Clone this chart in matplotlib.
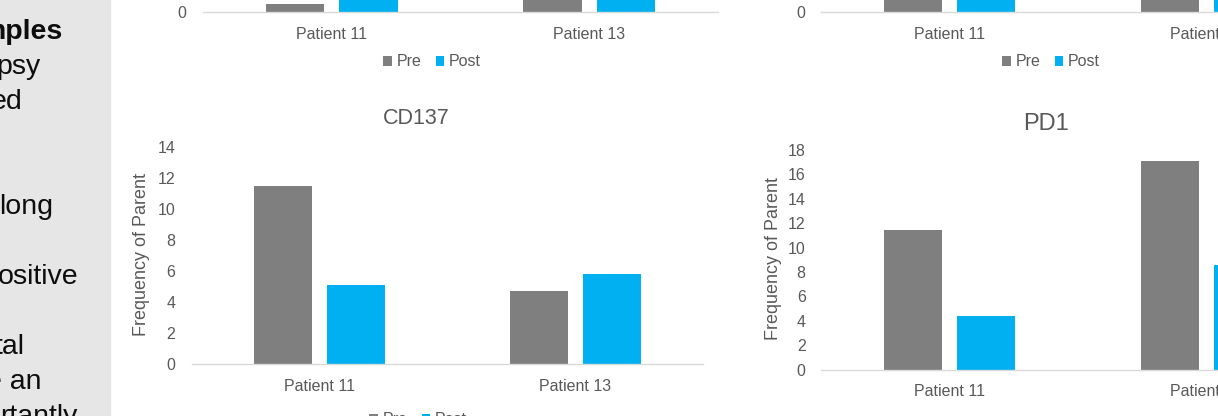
import matplotlib.pyplot as plt
import numpy as np
from matplotlib.patches import Rectangle

plt.rcParams['font.family'] = ['Liberation Sans', 'DejaVu Sans']

W, H = 1218, 416

patients = ['Patient 11', 'Patient 13']
series = ['Pre', 'Post']

# upper row (only the baseline is in view)
upper_left_pre = [0.5, 6.0]
upper_left_post = [5.5, 6.5]
upper_right_pre = [9.0, 12.0]
upper_right_post = [7.0, 8.0]

# CD137
cd137_pre = [11.5, 4.7]
cd137_post = [5.1, 5.8]

# PD1
pd1_pre = [11.4, 17.1]
pd1_post = [4.4, 8.6]

side_lines = ['mples', 'psy', 'ed', 'long', 'ositive', 'tal', 'e an', 'rtantly']
side_right = [62, 40, 23, 53, 78, 25, 42, 78]
side_base = [39, 74, 109, 214, 284, 354, 389, 424]

GREY = '#7f7f7f'
BLUE = '#00b0f0'
TXT = '#595959'

fig = plt.figure(figsize=(W / 100, H / 100), dpi=100)

# text panel on the left
fig.patches.append(Rectangle((0, 0), 110 / W, 1, transform=fig.transFigure,
                             color='#e6e6e6', zorder=0))
for i, (s, xr, yb) in enumerate(zip(side_lines, side_right, side_base)):
    fig.text(xr / W, 1 - yb / H, s, ha='right', va='baseline', fontsize=20.5,
             color='#0d0d0d', fontweight='bold' if i == 0 else 'normal')


def chart(x0, x1, y_zero, y_top, ymax, step, pre, post, ypad):
    ax = fig.add_axes([x0 / W, 1 - y_zero / H, (x1 - x0) / W, (y_zero - y_top) / H])
    x = np.arange(len(patients))
    ax.bar(x - 0.143, pre, 0.227, color=GREY, label=series[0], zorder=2)
    ax.bar(x + 0.143, post, 0.227, color=BLUE, label=series[1], zorder=2)
    ax.set_xlim(-0.5, 1.5)
    ax.set_ylim(0, ymax)
    ax.set_yticks(np.arange(0, ymax + 0.1, step))
    ax.set_xticks(x, patients)
    for side in ['left', 'top', 'right']:
        ax.spines[side].set_visible(False)
    ax.spines['bottom'].set_color('#d9d9d9')
    ax.spines['bottom'].set_linewidth(1.0)
    ax.tick_params(axis='y', length=0, pad=ypad, labelsize=11.5, labelcolor=TXT)
    ax.tick_params(axis='x', length=0, pad=10.5, labelsize=11.5, labelcolor=TXT)
    ax.patch.set_visible(False)
    return ax


def legend(ax, cx, cy):
    ax.legend(loc='center', bbox_to_anchor=(cx / W, 1 - cy / H),
              bbox_transform=fig.transFigure, ncol=2, frameon=False,
              fontsize=11.5, labelcolor=TXT, handlelength=0.55, handleheight=0.55,
              handletextpad=0.3, columnspacing=0.9, borderpad=0)


ax1 = chart(203, 718, 12, -206, 14, 2, upper_left_pre, upper_left_post, 12)
legend(ax1, 432, 62)
ax2 = chart(821, 1335, 12, -207, 18, 2, upper_right_pre, upper_right_post, 11)
legend(ax2, 1051, 62)

ax3 = chart(192, 703, 364.3, 146.7, 14, 2, cd137_pre, cd137_post, 12)
legend(ax3, 418, 420)
fig.text(416 / W, 1 - 119 / H, 'CD137', ha='center', va='center', fontsize=15.5, color=TXT)
fig.text(142 / W, 1 - 255 / H, 'Frequency of Parent', rotation=90, ha='center',
         va='center', fontsize=13, color=TXT)

ax4 = chart(821, 1335, 369.5, 150, 18, 2, pd1_pre, pd1_post, 11)
legend(ax4, 1051, 423)
fig.text(1046 / W, 1 - 124 / H, 'PD1', ha='center', va='center', fontsize=17, color=TXT)
fig.text(774 / W, 1 - 259 / H, 'Frequency of Parent', rotation=90, ha='center',
         va='center', fontsize=13, color=TXT)

fig.savefig('out.png', dpi=100)
